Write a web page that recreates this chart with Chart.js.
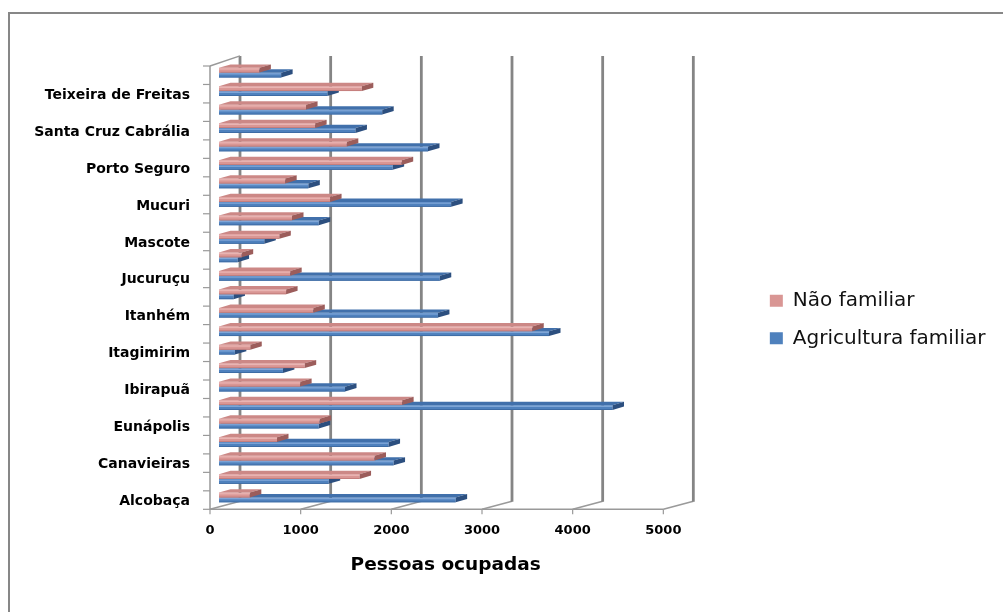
<!DOCTYPE html>
<html>
<head>
<meta charset="utf-8">
<script src="https://cdn.jsdelivr.net/npm/chart.js@4.4.1/dist/chart.umd.min.js"></script>
<style>
  body { margin: 0; background: #fff; }
  canvas { display: block; }
</style>
</head>
<body>
<canvas id="chart" width="1003" height="612"></canvas>
<script>
// categories from bottom to top (only every other one gets a label, like the original)
const MUNICIPIOS = [
  'Alcobaça', 'Belmonte', 'Canavieiras', 'Caravelas', 'Eunápolis', 'Guaratinga',
  'Ibirapuã', 'Itabela', 'Itagimirim', 'Itamaraju', 'Itanhém', 'Itapebi',
  'Jucuruçu', 'Lajedão', 'Mascote', 'Medeiros Neto', 'Mucuri', 'Nova Viçosa',
  'Porto Seguro', 'Prado', 'Santa Cruz Cabrália', 'Santa Luzia', 'Teixeira de Freitas', 'Vereda'
]
const NAO_FAMILIAR = [
  340, 1550, 1715, 640, 1110, 2020, 895, 945, 345, 3455, 1040, 740,
  785, 250, 665, 805, 1225, 730, 2015, 1410, 1060, 960, 1575, 445
]
const AGRICULTURA_FAMILIAR = [
  2610, 1210, 1925, 1870, 1100, 4340, 1390, 705, 175, 3640, 2415, 160,
  2435, 205, 500, 1100, 2560, 985, 1915, 2305, 1505, 1800, 1195, 685
]
const X_TICKS = [0, 1000, 2000, 3000, 4000, 5000]

// 3d look: offsets of front plane / back wall relative to the bar plane
const FRONT = [-9, 2.6]
const BACK = [21, -5.5]
const BAR_DEPTH = [11.5, 3.4]

function line(ctx, x1, y1, x2, y2) {
  ctx.beginPath()
  ctx.moveTo(x1, y1)
  ctx.lineTo(x2, y2)
  ctx.stroke()
}

const frame = {
  id: 'frame',
  beforeDraw(chart) {
    const ctx = chart.ctx
    ctx.save()
    ctx.strokeStyle = '#878787'
    ctx.lineWidth = 2
    ctx.beginPath()
    ctx.moveTo(9, 612)
    ctx.lineTo(9, 13)
    ctx.lineTo(1003, 13)
    ctx.stroke()
    ctx.restore()
  },
  beforeDatasetsDraw(chart) {
    const { ctx, scales: { x, y } } = chart
    const fy = y.bottom + FRONT[1]
    const by = y.bottom + BACK[1]
    const ty = y.top + BACK[1] - 2
    const p0 = x.getPixelForValue(0)
    ctx.save()
    ctx.lineCap = 'butt'
    X_TICKS.forEach((v) => {
      const p = x.getPixelForValue(v)
      ctx.strokeStyle = '#9a9a9a'
      ctx.lineWidth = 1.6
      line(ctx, p + FRONT[0], fy, p + BACK[0], by)
      ctx.strokeStyle = '#858585'
      ctx.lineWidth = 2.8
      line(ctx, p + BACK[0], by + 0.5, p + BACK[0], ty)
      ctx.strokeStyle = '#999'
      ctx.lineWidth = 1.2
      line(ctx, p + FRONT[0], fy, p + FRONT[0], fy + 5)
    })
    ctx.strokeStyle = '#999'
    ctx.lineWidth = 1.5
    // front floor edge and front left axis
    line(ctx, p0 + FRONT[0], fy, x.getPixelForValue(5000) + FRONT[0], fy)
    line(ctx, p0 + FRONT[0], y.top + FRONT[1], p0 + FRONT[0], fy)
    line(ctx, p0 + FRONT[0], y.top + FRONT[1], p0 + BACK[0], ty)
    // category tick marks
    const band = (y.bottom - y.top) / MUNICIPIOS.length
    ctx.lineWidth = 1.2
    for (let i = 0; i <= MUNICIPIOS.length; i++) {
      const yy = y.top + FRONT[1] + i * band
      line(ctx, p0 + FRONT[0] - 7, yy, p0 + FRONT[0], yy)
    }
    ctx.restore()
  },
  afterDatasetDraw(chart, args) {
    const ctx = chart.ctx
    const ds = chart.data.datasets[args.index]
    const [dx, dy] = BAR_DEPTH
    ctx.save()
    args.meta.data.forEach((bar) => {
      const { x, y, base, height } = bar.getProps(['x', 'y', 'base', 'height'], true)
      const t = y - height / 2
      const b = y + height / 2
      // top face
      ctx.fillStyle = ds.topColor
      ctx.beginPath()
      ctx.moveTo(base, t)
      ctx.lineTo(x, t)
      ctx.lineTo(x + dx, t - dy)
      ctx.lineTo(base + dx, t - dy)
      ctx.closePath()
      ctx.fill()
      // end cap
      ctx.fillStyle = ds.capColor
      ctx.beginPath()
      ctx.moveTo(x, t)
      ctx.lineTo(x + dx, t - dy)
      ctx.lineTo(x + dx, b - dy)
      ctx.lineTo(x, b)
      ctx.closePath()
      ctx.fill()
      // light band on the front face
      ctx.fillStyle = ds.lightColor
      ctx.fillRect(base, t + 0.5, x - base, 1.3)
      ctx.fillStyle = ds.darkColor
      ctx.fillRect(base, b - 0.8, x - base, 0.8)
    })
    ctx.restore()
  }
}

Chart.defaults.font.family = 'DejaVu Sans'
Chart.defaults.color = '#000'

new Chart(document.getElementById('chart'), {
  type: 'bar',
  data: {
    labels: MUNICIPIOS,
    datasets: [
      {
        label: 'Não familiar',
        data: NAO_FAMILIAR,
        backgroundColor: '#d99694',
        topColor: '#cc8886',
        capColor: '#9c5d5b',
        lightColor: '#eab4b2',
        darkColor: '#c07977',
        borderWidth: 0,
        xAxisID: 'x',
        yAxisID: 'y',
      },
      {
        label: 'Agricultura familiar',
        data: AGRICULTURA_FAMILIAR,
        backgroundColor: '#4f81bd',
        topColor: '#4170ab',
        capColor: '#2c4f7f',
        lightColor: '#7fa6d8',
        darkColor: '#3a679f',
        borderWidth: 0,
        xAxisID: 'x',
        yAxisID: 'y',
      },
    ],
  },
  options: {
    indexAxis: 'y',
    responsive: false,
    animation: false,
    layout: { padding: { top: 63.4, bottom: 36.2, left: 0, right: 7.5 } },
    datasets: { bar: { categoryPercentage: 0.53, barPercentage: 0.98 } },
    plugins: {
      legend: {
        position: 'right',
        align: 'center',
        maxWidth: 340,
        labels: {
          boxWidth: 13,
          boxHeight: 12,
          padding: 17.5,
          font: { size: 20 },
          color: '#111',
        },
      },
      tooltip: { enabled: false },
    },
    scales: {
      x: {
        type: 'linear',
        position: 'bottom',
        min: 0,
        max: 5000,
        afterBuildTicks: (s) => { s.ticks = X_TICKS.map((v) => ({ value: v })) },
        afterFit: (s) => { s.height = 69.1 },
        grid: { display: false, drawTicks: false },
        border: { display: false },
        ticks: {
          padding: 16,
          labelOffset: -9,
          font: { size: 13, weight: 'bold' },
          color: '#000',
          callback: (v) => String(v),
        },
        title: {
          display: true,
          text: 'Pessoas ocupadas',
          font: { size: 18.5, weight: 'bold' },
          padding: { top: 0, bottom: 0 },
          color: '#000',
        },
      },
      y: {
        type: 'category',
        position: 'left',
        reverse: true,
        afterFit: (s) => { s.width = 219 },
        grid: { display: false, drawTicks: false },
        border: { display: false },
        ticks: {
          autoSkip: false,
          padding: 29,
          labelOffset: 4,
          font: { size: 14, weight: 'bold' },
          color: '#000',
          callback: (val, i) => (i % 2 === 0 ? MUNICIPIOS[i] : ''),
        },
      },
      gap: {
        type: 'linear',
        position: 'right',
        display: true,
        afterFit: (s) => { s.width = 80 },
        grid: { display: false, drawTicks: false },
        border: { display: false },
        ticks: { display: false },
      },
    },
  },
  plugins: [frame],
})
</script>
</body>
</html>
